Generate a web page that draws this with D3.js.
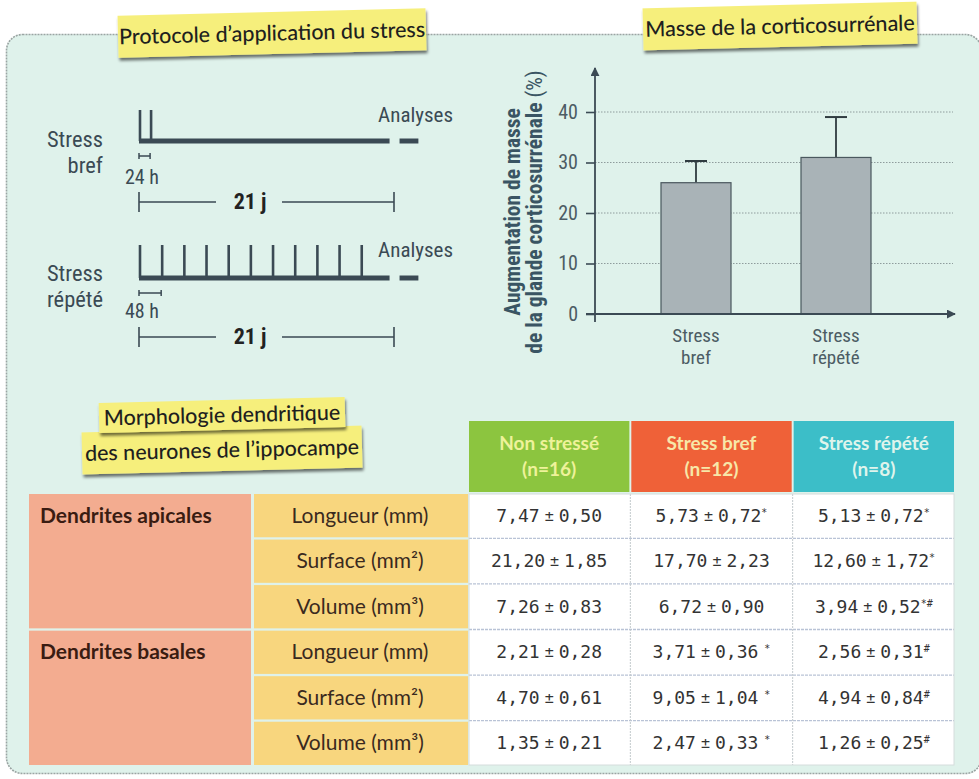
<!DOCTYPE html>
<html><head><meta charset="utf-8">
<script src="https://cdn.jsdelivr.net/npm/d3@7"></script>
<style>
html,body{margin:0;padding:0;background:#fff;}
svg{display:block;}
</style></head>
<body>
<svg id="c" width="979" height="779"></svg>
<script>
// ---------- DATA ----------
const barCategories = ["Stress|bref", "Stress|répété"];
const barValues = [26, 31];
const barErrors = [4.3, 8];
const yTicks = [0, 10, 20, 30, 40];

const briefStressDays = [0, 1];
const repeatedStressDays = [0, 2, 4, 6, 8, 10, 12, 14, 16, 18, 20];

const tableColumns = ["Non stressé|(n=16)", "Stress bref|(n=12)", "Stress répété|(n=8)"];
const tableGroups = ["Dendrites apicales", "Dendrites basales"];
const tableMeasures = ["Longueur (mm)", "Surface (mm²)", "Volume (mm³)", "Longueur (mm)", "Surface (mm²)", "Volume (mm³)"];
const nonStressedMean = [7.47, 21.20, 7.26, 2.21, 4.70, 1.35];
const nonStressedSd = [0.50, 1.85, 0.83, 0.28, 0.61, 0.21];
const nonStressedMark = ["", "", "", "", "", ""];
const briefMean = [5.73, 17.70, 6.72, 3.71, 9.05, 2.47];
const briefSd = [0.72, 2.23, 0.90, 0.36, 1.04, 0.33];
const briefMark = ["*", "", "", " *", " *", " *"];
const repeatedMean = [5.13, 12.60, 3.94, 2.56, 4.94, 1.26];
const repeatedSd = [0.72, 1.72, 0.52, 0.31, 0.84, 0.25];
const repeatedMark = ["*", "*", "*#", "#", "#", "#"];

// ---------- SETUP ----------
const svg = d3.select("#c");
const COND = "'Liberation Sans Narrow','Roboto Condensed','DejaVu Sans Condensed',sans-serif";
const LAB = "Lato, 'Open Sans', sans-serif";
const ink = "#3b4a54";
const defs = svg.append("defs");
const f = defs.append("filter").attr("id","sh").attr("x","-10%").attr("y","-20%").attr("width","120%").attr("height","160%");
f.append("feGaussianBlur").attr("in","SourceAlpha").attr("stdDeviation",1.6);
f.append("feOffset").attr("dx",1).attr("dy",3).attr("result","ob");
f.append("feComponentTransfer").append("feFuncA").attr("type","linear").attr("slope",0.55);
const fm = f.append("feMerge"); fm.append("feMergeNode"); fm.append("feMergeNode").attr("in","SourceGraphic");
defs.append("marker").attr("id","arr").attr("viewBox","0 0 10 10").attr("refX",9).attr("refY",5)
  .attr("markerWidth",9).attr("markerHeight",9).attr("markerUnits","userSpaceOnUse").attr("orient","auto")
  .append("path").attr("d","M0,0 L10,5 L0,10 Z").attr("fill",ink);

// panel
svg.append("rect").attr("x",6.5).attr("y",34.5).attr("width",975).attr("height",739).attr("rx",16)
  .attr("fill","#dff2eb").attr("stroke","#9aa5a3").attr("stroke-width",1.6).attr("stroke-dasharray","2,1");

function sticky(lines, cx, cy, w, h, rot, fs) {
  const g = svg.append("g").attr("transform",`translate(${cx},${cy}) rotate(${rot})`);
  g.append("rect").attr("x",-w/2).attr("y",-h/2).attr("width",w).attr("height",h)
    .attr("fill","#f6ef7c").attr("filter","url(#sh)");
  g.append("text").attr("text-anchor","middle").attr("y",fs*0.35)
    .attr("font-family",LAB).attr("font-size",fs).attr("font-weight",500).attr("fill","#1f1f1f")
    .text(lines);
}
sticky("Protocole d’application du stress", 272, 33, 308, 42, -1.4, 21.5);
sticky("Masse de la corticosurrénale", 780, 26, 274, 42, -1.4, 21.5);
sticky("des neurones de l’ippocampe", 222, 450, 280, 42, -1.4, 21.5);
sticky("Morphologie dendritique", 222, 415, 246, 30, -1.4, 21.5);

// ---------- TIMELINES ----------
const tx = d3.scaleLinear().domain([0, 23]).range([139, 394]);
function timeline(days, baseY, topY, lbl1, lbl2, lblY, anaY, durDays, durTxt, durY, bigY) {
  const g = svg.append("g");
  g.selectAll("line.tk").data(days).join("line")
    .attr("x1", d => tx(d)+1).attr("x2", d => tx(d)+1).attr("y1", topY).attr("y2", baseY)
    .attr("stroke", ink).attr("stroke-width", 2.6);
  g.append("line").attr("x1", tx(0)).attr("x2", tx(22.6)).attr("y1", baseY).attr("y2", baseY)
    .attr("stroke", ink).attr("stroke-width", 5);
  g.append("line").attr("x1", tx(23.5)).attr("x2", tx(25.2)).attr("y1", baseY).attr("y2", baseY)
    .attr("stroke", ink).attr("stroke-width", 5);
  g.append("text").attr("x", 453).attr("y", anaY).attr("text-anchor","end")
    .attr("font-family", COND).attr("font-size", 21).attr("fill", ink).text("Analyses");
  g.append("text").attr("x", 103).attr("y", lblY).attr("text-anchor","end")
    .attr("font-family", COND).attr("font-size", 22.5).attr("fill", ink).text(lbl1);
  g.append("text").attr("x", 103).attr("y", lblY+26).attr("text-anchor","end")
    .attr("font-family", COND).attr("font-size", 22.5).attr("fill", ink).text(lbl2);
  const by = baseY + 15;
  g.append("path").attr("d", `M${tx(0)},${by-3}V${by+3}M${tx(0)},${by}H${tx(durDays)}M${tx(durDays)},${by-3}V${by+3}`)
    .attr("stroke", ink).attr("stroke-width", 1.5).attr("fill","none");
  g.append("text").attr("x", tx(0)-14).attr("y", durY)
    .attr("font-family", COND).attr("font-size", 20).attr("fill", ink).text(durTxt);
  const x0 = tx(0), x1 = tx(23), xm = 258;
  g.append("path").attr("d", `M${x0},${bigY-10}V${bigY+10}M${x0},${bigY}H${xm-42}M${xm+24},${bigY}H${x1}M${x1},${bigY-10}V${bigY+10}`)
    .attr("stroke", ink).attr("stroke-width", 1.6).attr("fill","none");
  g.append("text").attr("x", xm-8).attr("y", bigY+7).attr("text-anchor","middle")
    .attr("font-family", COND).attr("font-size", 22).attr("font-weight","bold").attr("fill", "#222").text("21 j");
}
timeline(briefStressDays, 141, 110, "Stress", "bref", 147, 122, 1, "24 h", 184, 202);
timeline(repeatedStressDays, 278, 245, "Stress", "répété", 281, 257, 2, "48 h", 318, 337);

// ---------- BAR CHART ----------
const y = d3.scaleLinear().domain([0, 40]).range([314, 112]);
const bc = svg.append("g");
bc.selectAll("line.gr").data(yTicks.filter(t => t > 0)).join("line")
  .attr("x1", 595).attr("x2", 953).attr("y1", d => y(d)).attr("y2", d => y(d))
  .attr("stroke", "#8e9c9c").attr("stroke-width", 1).attr("stroke-dasharray", "1.5,1.5");
const yAxis = d3.axisLeft(y).tickValues(yTicks).tickSize(9).tickPadding(8);
const ya = bc.append("g").attr("transform","translate(595,0)").call(yAxis);
ya.select(".domain").remove();
ya.selectAll(".tick line").attr("stroke", ink).attr("stroke-width", 1.6);
ya.selectAll(".tick text").attr("font-family", COND).attr("font-size", 20).attr("fill", "#4c5c64");
const barX = d3.scaleBand().domain(barCategories).range([626, 906]).paddingInner(0.5).paddingOuter(0.25);
const cx = d => barX(d) + barX.bandwidth()/2;
const bars = bc.selectAll("g.b").data(barCategories).join("g");
bars.append("line").attr("x1", cx).attr("x2", cx)
  .attr("y1", (d,i) => y(barValues[i])).attr("y2", (d,i) => y(barValues[i]+barErrors[i]))
  .attr("stroke", "#2f3b40").attr("stroke-width", 1.8);
bars.append("line").attr("x1", d => cx(d)-11).attr("x2", d => cx(d)+11)
  .attr("y1", (d,i) => y(barValues[i]+barErrors[i])).attr("y2", (d,i) => y(barValues[i]+barErrors[i]))
  .attr("stroke", "#2f3b40").attr("stroke-width", 2);
bars.append("rect").attr("x", d => barX(d)).attr("width", barX.bandwidth())
  .attr("y", (d,i) => y(barValues[i])).attr("height", (d,i) => y(0) - y(barValues[i]))
  .attr("fill", "#a9b3b7").attr("stroke", "#4a585e").attr("stroke-width", 1.2);
bars.each(function(d){
  d.split("|").forEach((p, k) => d3.select(this).append("text").attr("text-anchor","middle")
    .attr("font-family", COND).attr("font-size", 19).attr("fill", "#4c5c64")
    .attr("x", cx(d)).attr("y", 342 + k*22).text(p));
});
bc.append("line").attr("x1", 595).attr("x2", 595).attr("y1", 322).attr("y2", 68)
  .attr("stroke", ink).attr("stroke-width", 1.8).attr("marker-end","url(#arr)");
bc.append("line").attr("x1", 586).attr("x2", 955).attr("y1", y(0)).attr("y2", y(0))
  .attr("stroke", ink).attr("stroke-width", 1.8).attr("marker-end","url(#arr)");
const yt1 = bc.append("text").attr("transform","translate(520,212) rotate(-90)").attr("text-anchor","middle")
  .attr("font-family", COND).attr("font-size", 21.5).attr("font-weight","bold").attr("fill", "#3a5563")
  .text("Augmentation de masse");
const yt2 = bc.append("text").attr("transform","translate(542,212) rotate(-90)").attr("text-anchor","middle")
  .attr("font-family", COND).attr("font-size", 21.5).attr("font-weight","bold").attr("fill", "#3a5563");
yt2.append("tspan").text("de la glande corticosurrénale ");
yt2.append("tspan").attr("font-weight","normal").text("(%)");

// ---------- TABLE ----------
const rowIdx = d3.range(tableMeasures.length);
const ry = d3.scaleBand().domain(rowIdx).range([494, 765]).paddingInner(0.05).paddingOuter(0);
const colX = d3.scaleBand().domain(tableColumns).range([469, 954]).paddingInner(0.012);
const headerColors = ["#8cc53f", "#ef6138", "#3cbec8"];
const headerText = ["#eef29a", "#f7e7a8", "#dff4ec"];
const tb = svg.append("g");
tb.selectAll("rect.h").data(tableColumns).join("rect")
  .attr("x", d => colX(d)).attr("width", colX.bandwidth()).attr("y", 421).attr("height", 71)
  .attr("fill", (d,i) => headerColors[i]);
tableColumns.forEach((c, i) => {
  c.split("|").forEach((p,k) => tb.append("text").attr("text-anchor","middle").attr("font-family",LAB)
    .attr("font-weight","bold").attr("font-size", 19).attr("fill", headerText[i])
    .attr("x", colX(c)+colX.bandwidth()/2).attr("y", 450 + k*26).text(p));
});
tableGroups.forEach((g, gi) => {
  const top = ry(gi*3), bot = ry(gi*3+2) + ry.bandwidth();
  tb.append("rect").attr("x", 29).attr("width", 222).attr("y", top).attr("height", bot - top).attr("fill", "#f3ac90");
  tb.append("text").attr("x", 40).attr("y", ry(gi*3) + ry.bandwidth()/2 + 7)
    .attr("font-family",LAB).attr("font-weight","bold").attr("font-size", 21).attr("fill", "#3a1c12").text(g);
});
tb.append("rect").attr("x", 469).attr("width", 485).attr("y", ry(0)).attr("height", ry(5)+ry.bandwidth()-ry(0)).attr("fill", "#ffffff");
tb.selectAll("rect.m").data(rowIdx).join("rect")
  .attr("x", 254).attr("width", 214).attr("y", i => ry(i)).attr("height", ry.bandwidth()).attr("fill", "#f8d67e");
tb.selectAll("text.m").data(rowIdx).join("text")
  .attr("x", 360).attr("y", i => ry(i) + ry.bandwidth()/2 + 7).attr("text-anchor","middle")
  .attr("font-family",LAB).attr("font-size", 21).attr("fill", "#3a2a1e")
  .text(i => tableMeasures[i]);
rowIdx.slice(1).forEach(i => {
  const yy = ry(i) - ry.step()*ry.paddingInner()/2;
  tb.append("line").attr("x1", 469).attr("x2", 954).attr("y1", yy).attr("y2", yy)
    .attr("stroke", "#b9c3d6").attr("stroke-width", 1.3).attr("stroke-dasharray", "3,1");
});
tableColumns.slice(1).forEach(c => {
  const xx = colX(c) - colX.step()*colX.paddingInner()/2;
  tb.append("line").attr("x1", xx).attr("x2", xx).attr("y1", ry(0)).attr("y2", ry(5)+ry.bandwidth())
    .attr("stroke", "#c2c9cc").attr("stroke-width", 1).attr("stroke-dasharray", "2,1");
});
tb.append("rect").attr("x", 469).attr("width", 485).attr("y", ry(0)).attr("height", ry(5)+ry.bandwidth()-ry(0))
  .attr("fill", "none").attr("stroke", "#d5dcdc").attr("stroke-width", 1);
const fmt = v => d3.format(".2f")(v).replace(".", ",");
const series = [[nonStressedMean, nonStressedSd, nonStressedMark], [briefMean, briefSd, briefMark], [repeatedMean, repeatedSd, repeatedMark]];
series.forEach((s, ci) => {
  const ccx = colX(tableColumns[ci]) + colX.bandwidth()/2;
  rowIdx.forEach(i => {
    const t = tb.append("text").attr("x", ccx).attr("y", ry(i) + ry.bandwidth()/2 + 6).attr("text-anchor","middle")
      .attr("font-family","'DejaVu Sans Mono', monospace").attr("font-size", 18).attr("fill", "#333");
    t.append("tspan").text(fmt(s[0][i]));
    t.append("tspan").attr("font-size", 15).attr("dx", 5).attr("dy", -1).text("±");
    t.append("tspan").attr("dy", 1).attr("dx", 5).text(fmt(s[1][i]));
    if (s[2][i]) t.append("tspan").attr("font-size", 10).attr("dy", -6).text(s[2][i]);
  });
});
</script>
</body></html>
